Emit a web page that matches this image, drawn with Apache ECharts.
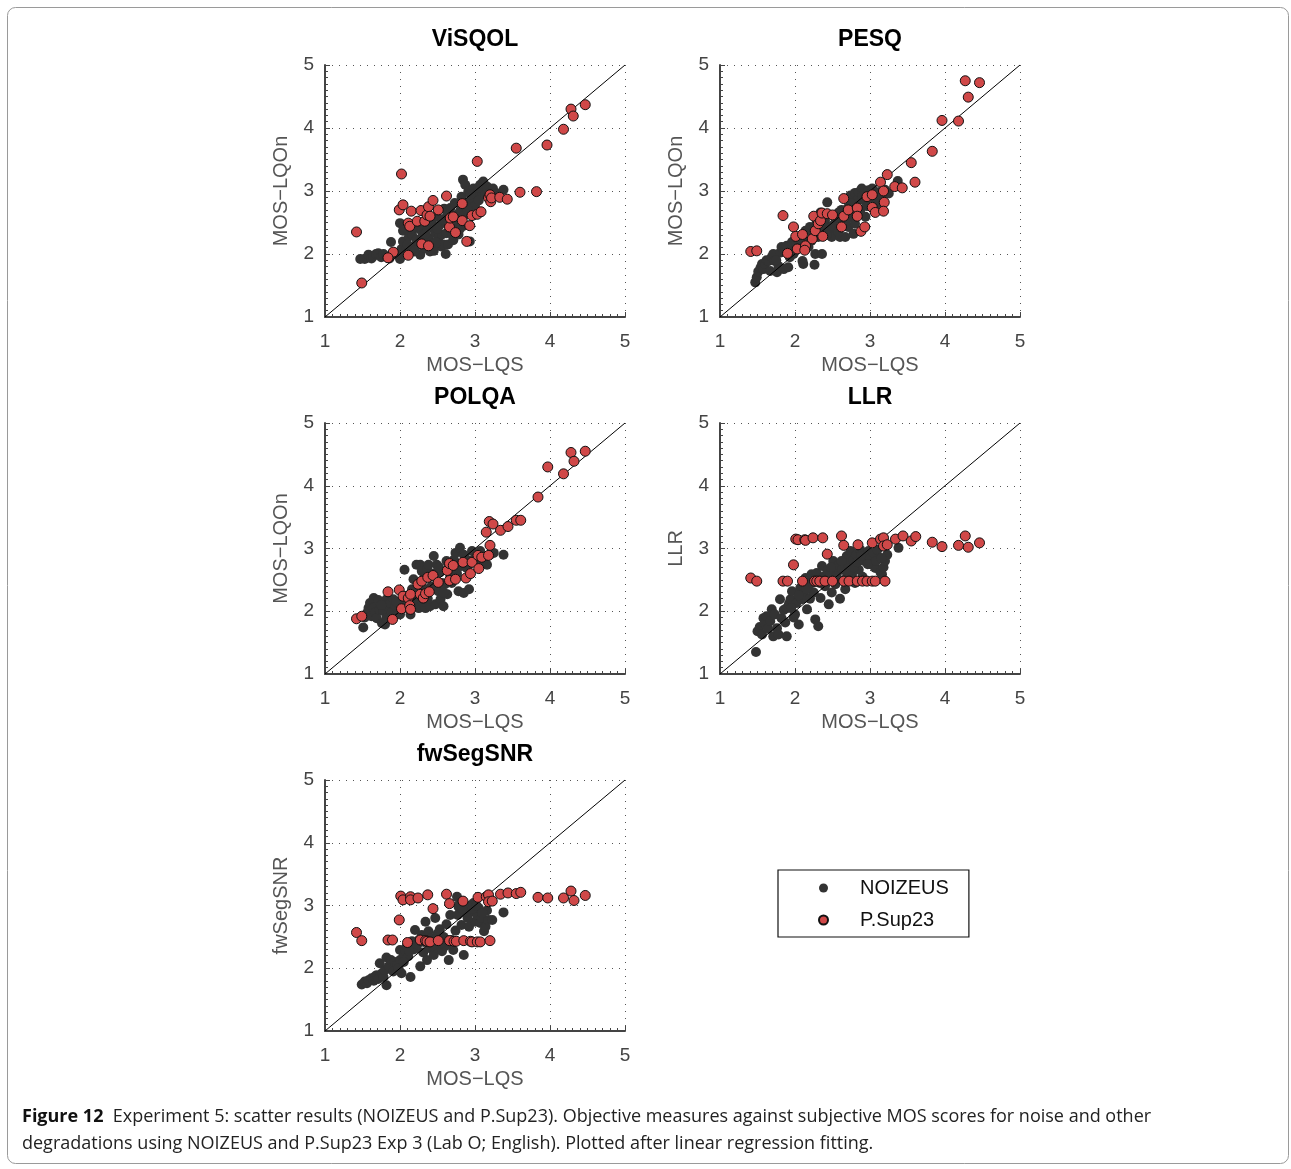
<!DOCTYPE html>
<html><head><meta charset="utf-8">
<script src="https://cdn.jsdelivr.net/npm/echarts@6/dist/echarts.min.js"></script>
<style>html,body{margin:0;padding:0;background:#fff;}#c{width:1291px;height:1169px;}</style>
</head><body><div id="c"></div>
<script>
// ---------- DATA ----------
var panelTitles = ['ViSQOL', 'PESQ', 'POLQA', 'LLR', 'fwSegSNR'];
var yAxisNames = ['MOS\u2212LQOn', 'MOS\u2212LQOn', 'MOS\u2212LQOn', 'LLR', 'fwSegSNR'];
var xAxisName = 'MOS\u2212LQS';
var tickValues = [1, 2, 3, 4, 5];
var seriesNames = ['NOIZEUS', 'P.Sup23'];
var diagonal = [[1, 1], [5, 5]];

var visqolNoizeus = [[1.47,1.92],[1.53,1.92],[1.56,1.94],[1.58,1.99],[1.62,1.93],[1.64,1.96],[1.68,2.00],[1.71,2.01],[1.75,1.95],[1.78,2.00],[1.82,1.96],[1.86,1.93],[1.88,2.19],[1.93,2.02],[1.96,2.00],[2.00,1.92],[2.00,2.49],[2.02,2.08],[2.04,2.37],[2.04,2.20],[2.07,2.00],[2.09,2.09],[2.12,2.28],[2.16,2.31],[2.17,2.12],[2.19,2.04],[2.22,2.23],[2.24,2.41],[2.26,2.15],[2.27,1.99],[2.29,2.36],[2.31,2.31],[2.33,2.09],[2.35,2.50],[2.36,2.42],[2.38,2.25],[2.40,2.04],[2.42,2.52],[2.44,2.17],[2.46,2.38],[2.47,2.33],[2.49,2.60],[2.51,2.25],[2.53,2.46],[2.55,2.12],[2.56,2.31],[2.58,2.15],[2.59,2.72],[2.60,2.52],[2.62,2.33],[2.64,2.15],[2.66,2.40],[2.67,2.73],[2.69,2.44],[2.71,2.22],[2.73,2.81],[2.75,2.62],[2.76,2.52],[2.78,2.31],[2.80,2.68],[2.82,2.91],[2.84,3.18],[2.85,2.45],[2.87,3.10],[2.89,2.81],[2.91,2.99],[2.93,2.20],[2.95,2.87],[2.98,3.04],[3.00,2.76],[3.02,2.94],[3.05,2.85],[3.07,3.10],[3.09,2.99],[3.11,3.15],[3.14,2.95],[3.16,3.07],[3.20,2.98],[3.24,3.04],[3.30,2.96],[3.38,3.02],[2.10,2.15],[2.20,2.05],[2.30,2.20],[2.45,2.05],[2.50,2.40],[2.57,2.55],[2.63,2.62],[2.70,2.30],[2.72,2.55],[2.80,2.40],[2.86,2.62],[2.90,2.70],[2.94,2.95],[3.04,3.05],[2.34,2.32],[2.15,2.40],[2.61,2.00],[2.48,2.18]];
var visqolPsup = [[1.42,2.35],[1.49,1.54],[2.02,3.27],[1.99,2.70],[2.04,2.78],[2.11,2.49],[2.13,2.44],[2.15,2.68],[2.11,1.98],[1.91,2.03],[1.84,1.94],[2.23,2.52],[2.28,2.69],[2.33,2.52],[2.36,2.62],[2.38,2.75],[2.40,2.60],[2.44,2.85],[2.29,2.16],[2.38,2.13],[2.51,2.70],[2.62,2.92],[2.66,2.43],[2.67,2.57],[2.71,2.59],[2.74,2.34],[2.83,2.53],[2.83,2.80],[2.89,2.20],[2.93,2.45],[2.96,2.61],[3.03,2.63],[3.08,2.67],[3.03,3.47],[3.18,2.89],[3.20,2.94],[3.21,2.83],[3.22,2.89],[3.33,2.90],[3.43,2.87],[3.55,3.68],[3.60,2.98],[3.82,2.99],[3.96,3.73],[4.18,3.98],[4.28,4.30],[4.31,4.19],[4.47,4.37]];

var pesqNoizeus = [[1.47,1.55],[1.49,1.63],[1.51,1.72],[1.54,1.78],[1.56,1.84],[1.58,1.76],[1.60,1.84],[1.62,1.90],[1.65,1.89],[1.67,1.73],[1.69,1.95],[1.71,2.00],[1.73,1.89],[1.76,1.71],[1.78,1.81],[1.80,2.02],[1.82,2.11],[1.85,1.76],[1.87,2.05],[1.89,2.13],[1.91,1.79],[1.94,2.05],[1.96,2.19],[1.98,2.00],[2.02,2.16],[2.05,2.24],[2.08,2.10],[2.10,1.89],[2.11,1.84],[2.14,2.37],[2.16,2.20],[2.18,2.11],[2.20,2.43],[2.22,2.21],[2.24,2.30],[2.26,1.83],[2.27,2.00],[2.29,2.50],[2.31,2.27],[2.34,2.66],[2.36,2.00],[2.38,2.40],[2.40,2.53],[2.43,2.82],[2.45,2.35],[2.47,2.43],[2.49,2.27],[2.52,2.60],[2.54,2.51],[2.56,2.38],[2.58,2.66],[2.60,2.27],[2.63,2.55],[2.65,2.45],[2.67,2.27],[2.69,2.62],[2.71,2.74],[2.71,2.43],[2.74,2.93],[2.76,2.59],[2.78,2.32],[2.80,2.97],[2.80,2.48],[2.83,2.85],[2.85,2.98],[2.87,2.70],[2.89,3.04],[2.92,2.85],[2.94,2.59],[2.96,2.76],[2.98,3.01],[3.01,2.90],[3.03,3.04],[3.05,2.72],[3.07,2.88],[3.10,2.98],[3.12,2.80],[3.14,2.98],[3.16,2.90],[3.20,3.02],[3.25,2.96],[3.37,3.16],[2.00,2.05],[2.12,2.22],[2.25,2.40],[2.33,2.35],[2.42,2.30],[2.50,2.45],[2.58,2.35],[2.62,2.70],[2.68,2.52],[2.75,2.80],[2.82,2.65],[2.90,2.92],[3.00,2.95],[3.08,2.95],[1.93,1.95],[1.75,1.90]];
var pesqPsup = [[1.41,2.04],[1.49,2.05],[1.84,2.61],[1.90,2.01],[1.98,2.43],[2.01,2.28],[2.10,2.31],[2.03,2.08],[2.14,2.13],[2.13,2.06],[2.23,2.24],[2.25,2.60],[2.27,2.37],[2.31,2.48],[2.34,2.53],[2.36,2.65],[2.37,2.28],[2.43,2.64],[2.50,2.62],[2.62,2.43],[2.65,2.88],[2.65,2.60],[2.71,2.70],[2.83,2.73],[2.83,2.60],[2.88,2.36],[2.93,2.43],[2.96,2.91],[3.03,2.94],[3.03,2.74],[3.07,2.66],[3.14,3.14],[3.18,3.00],[3.19,2.82],[3.18,2.68],[3.23,3.26],[3.33,3.07],[3.43,3.05],[3.55,3.45],[3.60,3.14],[3.83,3.63],[3.96,4.12],[4.18,4.11],[4.27,4.75],[4.31,4.49],[4.46,4.72]];

var polqaNoizeus = [[1.51,1.74],[1.53,1.90],[1.56,1.97],[1.58,2.05],[1.60,2.13],[1.62,1.92],[1.65,2.05],[1.65,2.21],[1.67,1.98],[1.69,1.89],[1.71,2.18],[1.73,2.02],[1.76,1.81],[1.78,2.00],[1.80,1.79],[1.82,1.89],[1.82,2.19],[1.85,2.06],[1.87,2.13],[1.89,1.98],[1.91,2.19],[1.94,2.08],[1.96,1.95],[2.00,1.95],[2.02,2.10],[2.06,2.66],[2.07,2.11],[2.10,2.25],[2.14,1.95],[2.16,2.35],[2.18,2.51],[2.20,2.16],[2.22,2.74],[2.25,2.05],[2.27,2.74],[2.29,2.64],[2.31,2.37],[2.33,2.55],[2.34,2.05],[2.36,2.68],[2.38,2.74],[2.40,2.08],[2.42,2.40],[2.45,2.88],[2.47,2.11],[2.49,2.74],[2.51,2.32],[2.53,2.62],[2.54,2.19],[2.56,2.45],[2.58,2.08],[2.60,2.43],[2.63,2.27],[2.65,2.70],[2.67,2.55],[2.69,2.45],[2.72,2.82],[2.74,2.93],[2.76,2.60],[2.78,2.32],[2.80,3.01],[2.82,2.72],[2.85,2.29],[2.87,2.85],[2.89,2.69],[2.92,2.35],[2.94,2.80],[2.96,2.96],[3.00,2.85],[3.03,2.78],[3.07,2.96],[3.10,2.88],[3.12,2.80],[3.16,2.74],[3.20,2.90],[3.25,2.93],[3.38,2.90],[2.05,2.05],[2.12,2.15],[2.20,2.30],[2.30,2.15],[2.37,2.20],[2.44,2.60],[2.52,2.70],[2.58,2.30],[2.62,2.80],[2.70,2.65],[2.78,2.75],[2.85,2.90],[2.92,2.75],[3.05,2.90],[1.75,2.10],[1.95,2.15]];
var polqaPsup = [[1.42,1.88],[1.49,1.92],[1.84,2.31],[1.90,1.87],[1.99,2.34],[2.02,2.04],[2.04,2.24],[2.11,2.21],[2.13,2.09],[2.14,2.03],[2.14,2.27],[2.24,2.43],[2.27,2.27],[2.29,2.48],[2.31,2.21],[2.34,2.28],[2.37,2.54],[2.39,2.31],[2.44,2.57],[2.51,2.46],[2.63,2.65],[2.66,2.49],[2.66,2.76],[2.71,2.73],[2.74,2.51],[2.84,2.78],[2.88,2.53],[2.94,2.60],[2.96,2.78],[3.04,2.89],[3.05,2.68],[3.09,2.86],[3.15,3.26],[3.18,2.89],[3.19,3.43],[3.20,3.05],[3.24,3.39],[3.34,3.29],[3.44,3.35],[3.55,3.45],[3.61,3.45],[3.84,3.82],[3.97,4.30],[4.18,4.19],[4.28,4.53],[4.32,4.39],[4.47,4.55]];

var llrNoizeus = [[1.48,1.35],[1.50,1.68],[1.53,1.75],[1.56,1.63],[1.58,1.89],[1.60,1.80],[1.62,1.92],[1.64,1.72],[1.67,1.84],[1.69,2.03],[1.71,1.60],[1.73,1.95],[1.76,1.73],[1.78,1.63],[1.80,2.19],[1.82,1.89],[1.85,2.02],[1.87,1.82],[1.89,1.60],[1.89,2.05],[1.92,2.12],[1.94,2.19],[1.96,2.32],[1.98,1.90],[2.00,1.95],[2.02,2.13],[2.05,1.79],[2.07,2.37],[2.09,2.19],[2.12,2.28],[2.14,2.53],[2.16,2.03],[2.18,2.42],[2.20,2.20],[2.22,2.59],[2.25,2.30],[2.27,1.87],[2.29,2.61],[2.31,1.76],[2.33,2.45],[2.34,2.21],[2.36,2.72],[2.38,2.55],[2.40,2.40],[2.43,2.65],[2.45,2.11],[2.47,2.59],[2.49,2.30],[2.51,2.80],[2.54,2.43],[2.56,2.62],[2.58,2.74],[2.60,2.20],[2.63,2.66],[2.65,2.50],[2.67,2.35],[2.69,2.88],[2.71,2.74],[2.74,2.96],[2.76,2.58],[2.78,2.82],[2.80,2.45],[2.82,2.90],[2.85,2.66],[2.87,2.98],[2.90,2.55],[2.92,2.80],[2.95,2.90],[2.98,2.96],[3.01,2.85],[3.03,2.74],[3.05,2.92],[3.07,2.69],[3.10,2.98],[3.12,2.85],[3.14,2.62],[3.16,2.59],[3.18,2.70],[3.20,2.80],[3.23,2.90],[3.38,3.01],[2.15,2.35],[2.23,2.45],[2.30,2.50],[2.42,2.50],[2.48,2.70],[2.55,2.55],[2.62,2.80],[2.70,2.60],[2.78,2.70],[2.83,2.78],[2.88,2.88],[2.97,2.75],[3.08,2.80],[3.15,2.85],[1.95,2.05],[2.05,2.25]];
var llrPsup = [[1.41,2.53],[1.49,2.48],[1.84,2.48],[1.90,2.48],[1.98,2.74],[2.01,3.15],[2.04,3.14],[2.13,3.14],[2.14,3.13],[2.24,3.17],[2.37,3.17],[2.10,2.48],[2.26,2.48],[2.29,2.48],[2.33,2.48],[2.40,2.48],[2.43,2.91],[2.50,2.48],[2.62,3.20],[2.65,3.05],[2.65,2.48],[2.72,2.48],[2.84,3.06],[2.83,2.48],[2.90,2.48],[2.96,2.48],[3.03,2.48],[3.07,2.48],[3.20,2.48],[3.03,3.09],[3.14,3.15],[3.18,3.17],[3.18,3.04],[3.23,3.06],[3.34,3.15],[3.44,3.20],[3.55,3.12],[3.61,3.19],[3.83,3.10],[3.96,3.03],[4.18,3.05],[4.27,3.20],[4.31,3.02],[4.46,3.09]];

var fwsegNoizeus = [[1.49,1.74],[1.53,1.79],[1.56,1.76],[1.58,1.81],[1.62,1.84],[1.65,1.80],[1.67,1.87],[1.69,1.89],[1.71,1.83],[1.73,2.08],[1.76,1.92],[1.78,1.86],[1.80,1.97],[1.82,1.73],[1.82,2.17],[1.85,2.03],[1.88,2.13],[1.91,1.95],[1.93,2.10],[1.96,2.05],[2.00,2.13],[2.00,2.29],[2.02,1.92],[2.05,2.20],[2.07,2.27],[2.09,2.35],[2.11,2.19],[2.14,1.86],[2.16,2.43],[2.18,2.30],[2.20,2.61],[2.22,2.32],[2.25,2.45],[2.27,2.03],[2.29,2.53],[2.31,2.25],[2.34,2.74],[2.36,2.13],[2.38,2.59],[2.40,2.32],[2.42,2.48],[2.45,2.21],[2.47,2.80],[2.49,2.43],[2.51,2.32],[2.53,2.62],[2.56,2.27],[2.58,2.50],[2.60,2.35],[2.62,2.70],[2.65,2.13],[2.67,2.85],[2.69,2.45],[2.71,2.29],[2.74,2.60],[2.76,3.14],[2.78,2.98],[2.80,3.05],[2.82,2.69],[2.85,2.21],[2.87,2.88],[2.89,2.96],[2.92,2.66],[2.94,3.00],[2.96,2.90],[2.98,3.04],[3.00,2.74],[3.03,2.85],[3.05,2.96],[3.07,2.72],[3.09,2.80],[3.12,2.59],[3.14,2.66],[3.16,2.92],[3.18,2.77],[3.23,2.77],[3.38,2.89],[2.12,2.28],[2.23,2.38],[2.32,2.42],[2.43,2.35],[2.50,2.55],[2.55,2.40],[2.63,2.45],[2.70,2.40],[2.77,2.85],[2.83,2.95],[2.90,2.80],[2.97,2.95],[3.02,3.00],[3.10,2.88],[1.98,2.00],[2.05,2.10]];
var fwsegPsup = [[1.42,2.57],[1.49,2.44],[1.84,2.45],[1.90,2.45],[1.99,2.77],[2.01,3.15],[2.04,3.09],[2.14,3.14],[2.14,3.09],[2.24,3.12],[2.37,3.17],[2.10,2.41],[2.27,2.45],[2.34,2.44],[2.36,2.43],[2.40,2.42],[2.44,2.95],[2.51,2.44],[2.62,3.18],[2.66,3.03],[2.66,2.44],[2.72,2.43],[2.75,2.43],[2.84,3.07],[2.85,2.44],[2.94,2.43],[2.96,2.42],[3.03,2.42],[3.07,2.42],[3.20,2.44],[3.04,3.13],[3.15,3.14],[3.18,3.17],[3.18,3.06],[3.23,3.07],[3.34,3.18],[3.44,3.20],[3.55,3.19],[3.61,3.21],[3.84,3.13],[3.97,3.12],[4.18,3.12],[4.28,3.23],[4.32,3.08],[4.47,3.16]];

var captionLine1Bold = 'Figure 12';
var captionLine1 = 'Experiment 5: scatter results (NOIZEUS and P.Sup23). Objective measures against subjective MOS scores for noise and other';
var captionLine2 = 'degradations using NOIZEUS and P.Sup23 Exp 3 (Lab O; English). Plotted after linear regression fitting.';

// ---------- LAYOUT ----------
var noizeusData = [visqolNoizeus, pesqNoizeus, polqaNoizeus, llrNoizeus, fwsegNoizeus];
var psupData = [visqolPsup, pesqPsup, polqaPsup, llrPsup, fwsegPsup];
var gridPos = [
  {left: 325, top: 65, width: 300, height: 252},
  {left: 720, top: 65, width: 300, height: 252},
  {left: 325, top: 423, width: 300, height: 251},
  {left: 720, top: 423, width: 300, height: 251},
  {left: 325, top: 780, width: 300, height: 251}
];
var FONT = '"Liberation Sans", Arial, sans-serif';
var CAPFONT = '"Open Sans", Lato, sans-serif';
var grids = [], xAxes = [], yAxes = [], series = [], titles = [];
var axisCommon = {
  min: tickValues[0], max: tickValues[tickValues.length - 1], interval: 1,
  axisLine: {show: true, lineStyle: {color: '#444', width: 2}},
  axisTick: {show: true, inside: true, length: 5, lineStyle: {color: '#444', width: 1}},
  minorTick: {show: true, splitNumber: 10, length: 3, lineStyle: {color: '#444', width: 1}},
  splitLine: {show: true, showMinLine: false, lineStyle: {color: '#555', width: 1, type: [1, 6]}},
  axisLabel: {color: '#444', fontSize: 19, fontFamily: FONT},
  nameLocation: 'middle',
  nameTextStyle: {color: '#555', fontSize: 20, fontFamily: FONT}
};
gridPos.forEach(function (g, i) {
  grids.push({left: g.left, top: g.top, width: g.width, height: g.height, containLabel: false});
  xAxes.push(Object.assign({}, axisCommon, {
    type: 'value', gridIndex: i, name: xAxisName, nameGap: 38,
    axisLabel: Object.assign({}, axisCommon.axisLabel, {margin: 15})
  }));
  yAxes.push(Object.assign({}, axisCommon, {
    type: 'value', gridIndex: i, name: yAxisNames[i], nameGap: 34,
    axisLabel: Object.assign({}, axisCommon.axisLabel, {margin: 11})
  }));
  titles.push({
    text: panelTitles[i], left: g.left + g.width / 2, top: g.top - 37, textAlign: 'center', padding: 0,
    textStyle: {fontSize: 23, fontWeight: 'bold', color: '#000', fontFamily: FONT}
  });
  series.push({
    type: 'scatter', name: seriesNames[0], xAxisIndex: i, yAxisIndex: i,
    data: noizeusData[i], symbol: 'circle', symbolSize: 10, z: 2,
    itemStyle: {color: '#333333', opacity: 1}
  });
  series.push({
    type: 'line', name: 'diag', xAxisIndex: i, yAxisIndex: i, data: diagonal,
    symbol: 'none', z: 3, silent: true,
    lineStyle: {color: '#000', width: 1}
  });
  series.push({
    type: 'scatter', name: seriesNames[1], xAxisIndex: i, yAxisIndex: i,
    data: psupData[i], symbol: 'circle', symbolSize: 10, z: 4,
    itemStyle: {color: '#d04848', borderColor: '#111', borderWidth: 1, opacity: 1}
  });
});

var chart = echarts.init(document.getElementById('c'), null, {renderer: 'canvas'});
chart.setOption({
  backgroundColor: '#fff',
  animation: false,
  title: titles,
  grid: grids,
  xAxis: xAxes,
  yAxis: yAxes,
  series: series,
  legend: {
    data: seriesNames, orient: 'vertical', left: 778, top: 870,
    padding: [8, 20, 7, 40], itemGap: 12, itemWidth: 9, itemHeight: 9,
    borderColor: '#111', borderWidth: 1.2, borderRadius: 0,
    textStyle: {fontSize: 20, color: '#111', fontFamily: FONT, padding: [0, 0, 0, 27]}
  },
  graphic: [
    {type: 'rect', shape: {x: 7.5, y: 7.5, width: 1281, height: 1156, r: 8}, style: {fill: null, stroke: '#9a9a9a', lineWidth: 1}, z: -1},
    {type: 'text', left: 22, top: 1108, style: {
      text: '{b|' + captionLine1Bold + '}  ' + captionLine1,
      font: '18px ' + CAPFONT, fill: '#222',
      rich: {b: {fontWeight: 'bold', fontSize: 18, fontFamily: CAPFONT, fill: '#111'}}
    }},
    {type: 'text', left: 22, top: 1135, style: {
      text: captionLine2, font: '18px ' + CAPFONT, fill: '#222'
    }}
  ]
});
</script>
</body></html>
